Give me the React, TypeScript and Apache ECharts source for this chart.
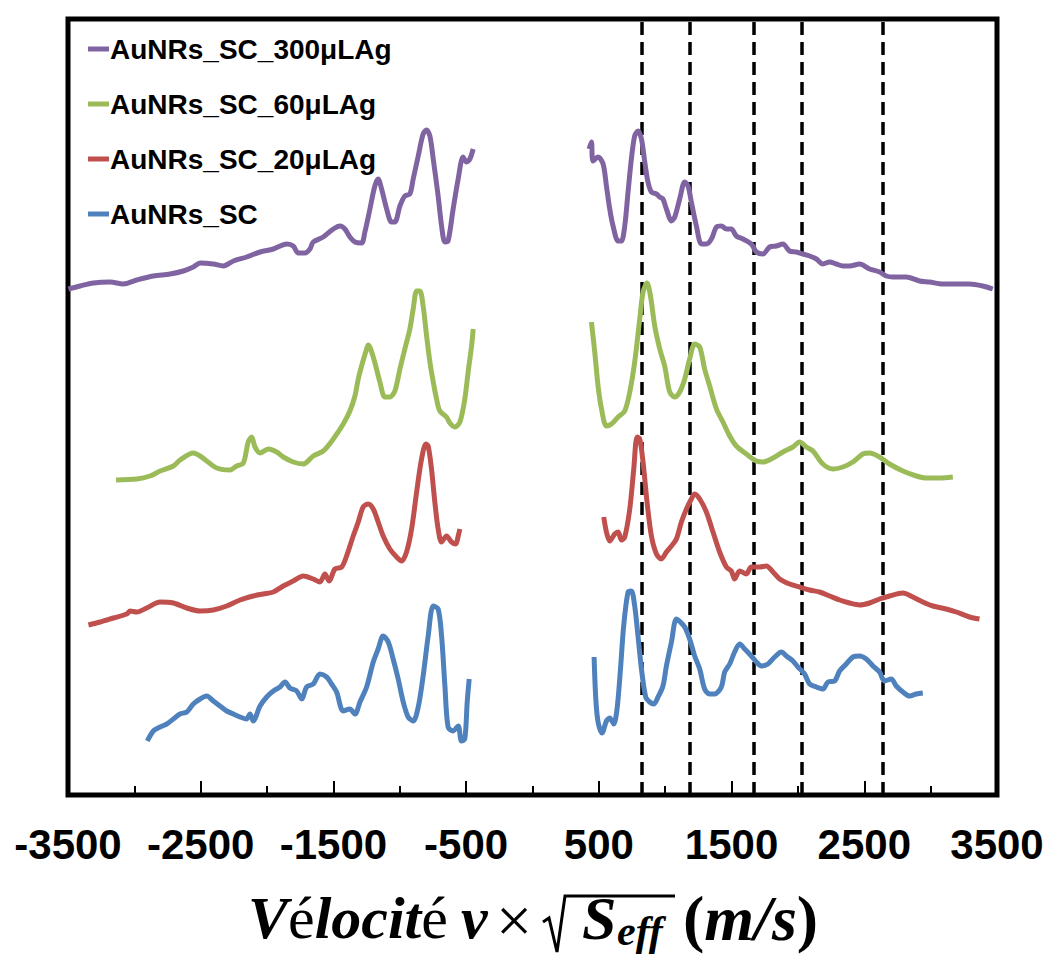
import React, { useEffect, useRef } from "react";
import * as echarts from "echarts";

// Tick values of the x axis (labels every 1000 at odd 500s, ticks every 500)
const X_MIN = -3500;
const X_MAX = 3500;
const X_STEP = 500;
const X_LABEL_STEP = 1000;

// Dashed reference velocities
const DASH_X = [821, 1184, 1669, 2030, 2636];

const NAMES = ["AuNRs_SC_300μLAg", "AuNRs_SC_60μLAg", "AuNRs_SC_20μLAg", "AuNRs_SC"];
const COLORS = ["#8064A2", "#9BBB59", "#C0504D", "#4F81BD"];

// Offset spectra (arbitrary intensity units)
const P300_L = [[-3497,506],[-3409,509],[-3309,512],[-3183,513],[-3083,511],[-2982,515],[-2857,519],[-2731,521],[-2631,524],[-2556,528],[-2505,532],[-2405,531],[-2330,529],[-2254,534],[-2154,538],[-2053,543],[-1953,546],[-1852,551],[-1803,549],[-1765,542],[-1715,542],[-1677,546],[-1652,553],[-1577,558],[-1501,566],[-1451,569],[-1413,566],[-1376,558],[-1338,553],[-1288,552],[-1263,563],[-1225,586],[-1188,609],[-1163,616],[-1137,606],[-1099,586],[-1062,573],[-1037,573],[-999,589],[-962,599],[-924,601],[-899,616],[-861,639],[-824,661],[-798,665],[-773,659],[-748,636],[-711,599],[-685,569],[-660,553],[-636,554],[-598,586],[-560,616],[-523,638],[-497,633],[-472,636],[-447,646]];
const P300_R = [[426,646],[444,653],[456,634],[494,638],[532,631],[557,609],[582,586],[607,569],[645,554],[670,554],[695,569],[720,603],[745,636],[770,659],[795,664],[821,656],[846,633],[870,613],[896,603],[934,601],[959,598],[983,596],[1009,586],[1047,574],[1072,578],[1109,596],[1147,613],[1172,609],[1197,593],[1235,569],[1273,551],[1310,551],[1348,556],[1386,568],[1423,569],[1461,566],[1498,566],[1536,559],[1586,556],[1649,551],[1687,543],[1736,541],[1787,548],[1837,549],[1887,551],[1937,544],[1988,543],[2038,541],[2088,539],[2139,536],[2188,531],[2239,533],[2289,531],[2339,529],[2389,529],[2465,531],[2540,526],[2615,523],[2666,519],[2715,518],[2816,518],[2916,514],[2992,513],[3092,511],[3193,511],[3293,511],[3393,509],[3468,506]];

const G60_L = [[-3138,315],[-2982,316],[-2882,319],[-2806,324],[-2706,329],[-2656,335],[-2556,342],[-2505,339],[-2455,334],[-2379,327],[-2279,325],[-2229,329],[-2179,332],[-2142,353],[-2116,358],[-2091,348],[-2053,342],[-1991,346],[-1928,343],[-1878,338],[-1803,333],[-1727,331],[-1652,339],[-1577,344],[-1501,356],[-1426,371],[-1376,384],[-1338,399],[-1313,416],[-1288,429],[-1250,446],[-1238,450],[-1200,438],[-1150,413],[-1112,398],[-1075,398],[-1037,404],[-999,426],[-962,446],[-924,466],[-899,486],[-873,504],[-849,504],[-824,489],[-798,459],[-773,433],[-748,413],[-723,396],[-698,384],[-648,378],[-623,372],[-585,368],[-547,373],[-510,396],[-485,423],[-459,449],[-447,466]];
const G60_R = [[444,473],[469,443],[494,409],[520,386],[557,369],[595,371],[645,378],[695,384],[733,403],[770,433],[808,476],[833,503],[863,512],[889,499],[921,469],[959,446],[996,429],[1034,403],[1072,398],[1109,403],[1147,416],[1184,436],[1222,451],[1260,448],[1297,426],[1335,409],[1386,386],[1435,373],[1486,359],[1536,349],[1611,341],[1687,334],[1736,333],[1812,337],[1887,343],[1962,348],[2013,353],[2063,348],[2113,344],[2188,331],[2264,326],[2339,328],[2414,333],[2489,341],[2540,342],[2615,338],[2690,331],[2791,324],[2892,319],[2967,317],[3067,317],[3167,318]];

const R20_L = [[-3346,170],[-3258,173],[-3158,177],[-3057,181],[-3032,184],[-2982,183],[-2907,187],[-2806,193],[-2706,192],[-2605,187],[-2505,184],[-2405,185],[-2304,189],[-2204,195],[-2104,199],[-2029,201],[-1953,203],[-1878,209],[-1803,214],[-1727,219],[-1652,216],[-1602,213],[-1564,221],[-1532,214],[-1489,226],[-1438,228],[-1401,239],[-1351,259],[-1313,273],[-1276,288],[-1238,291],[-1200,286],[-1163,273],[-1125,259],[-1075,246],[-1024,238],[-986,234],[-949,243],[-911,266],[-873,303],[-836,336],[-803,351],[-786,349],[-761,326],[-736,293],[-711,266],[-685,253],[-648,259],[-610,253],[-578,251],[-560,259],[-547,266]];
const R20_R = [[537,278],[557,263],[582,254],[620,261],[645,263],[670,255],[695,258],[733,286],[763,326],[788,358],[808,356],[833,333],[863,293],[896,259],[934,241],[971,236],[1009,243],[1047,249],[1084,256],[1122,273],[1160,286],[1197,296],[1222,301],[1260,296],[1310,283],[1360,263],[1410,243],[1461,228],[1498,224],[1523,216],[1561,224],[1611,221],[1649,228],[1712,228],[1762,229],[1812,223],[1862,216],[1937,211],[2013,208],[2088,205],[2163,203],[2239,199],[2314,195],[2389,192],[2465,190],[2540,192],[2615,196],[2690,199],[2791,202],[2866,198],[2941,193],[3017,189],[3117,186],[3193,183],[3293,178],[3368,176]];

const B_L = [[-2902,54],[-2857,64],[-2806,68],[-2756,71],[-2706,76],[-2656,81],[-2605,83],[-2556,91],[-2505,96],[-2455,99],[-2405,94],[-2355,89],[-2304,84],[-2254,81],[-2204,78],[-2154,76],[-2129,81],[-2104,74],[-2053,89],[-2003,98],[-1953,104],[-1903,108],[-1865,113],[-1828,107],[-1777,104],[-1739,96],[-1702,108],[-1652,111],[-1602,121],[-1551,118],[-1514,111],[-1476,103],[-1426,84],[-1376,86],[-1338,81],[-1300,93],[-1250,108],[-1200,133],[-1163,146],[-1125,159],[-1087,153],[-1050,136],[-1012,116],[-974,93],[-937,78],[-899,74],[-861,88],[-824,119],[-786,159],[-748,189],[-711,186],[-685,159],[-660,109],[-636,68],[-598,64],[-560,69],[-535,54],[-510,56],[-492,93],[-477,116]];
const B_R = [[464,138],[477,96],[494,73],[524,62],[557,74],[582,77],[612,71],[637,86],[663,126],[687,169],[720,203],[745,204],[770,189],[795,159],[821,126],[853,98],[883,93],[913,91],[946,98],[983,109],[1009,129],[1047,153],[1084,176],[1114,173],[1147,168],[1184,156],[1222,139],[1260,126],[1297,106],[1335,101],[1373,101],[1423,108],[1448,123],[1486,131],[1523,143],[1561,151],[1599,146],[1649,139],[1687,133],[1724,129],[1774,131],[1825,138],[1875,143],[1913,139],[1962,134],[2000,128],[2050,121],[2088,111],[2139,108],[2188,106],[2226,113],[2276,114],[2314,124],[2364,131],[2414,138],[2465,139],[2515,136],[2565,129],[2615,123],[2653,114],[2703,116],[2741,109],[2791,103],[2841,99],[2892,101],[2941,102]];

const SEGMENTS = [
  [P300_L, P300_R],
  [G60_L, G60_R],
  [R20_L, R20_R],
  [B_L, B_R],
];

const Y_MIN = 0;
const Y_MAX = 776;

export default function App() {
  const ref = useRef<HTMLDivElement>(null);
  useEffect(() => {
    if (!ref.current) return;
    const chart = echarts.init(ref.current, null, { renderer: "svg" });

    const series: any[] = [];
    SEGMENTS.forEach((segs, i) => {
      segs.forEach((data, j) => {
        const s: any = {
          type: "line",
          name: NAMES[i],
          xAxisIndex: 0,
          data,
          showSymbol: false,
          symbol: "none",
          smooth: 0.3,
          color: COLORS[i],
          lineStyle: { color: COLORS[i], width: 5 },
          z: 3,
        };
        if (i === 0 && j === 0) {
          s.markLine = {
            silent: true,
            symbol: ["none", "none"],
            label: { show: false },
            lineStyle: { color: "#000", type: [13, 7], width: 3.5 },
            data: DASH_X.map((x) => ({ xAxis: x })),
            z: 2,
          };
        }
        series.push(s);
      });
    });

    const serif = "'Liberation Serif', 'DejaVu Serif', serif";
    const sans = "'Liberation Sans', Arial, sans-serif";
    const titleY = 918;
    const richStyles = (size: number) => ({
      i: { fontFamily: serif, fontStyle: "italic", fontWeight: "bold", fontSize: size, fill: "#000" },
      u: { fontFamily: serif, fontStyle: "normal", fontWeight: "normal", fontSize: size, fill: "#000" },
      b: { fontFamily: serif, fontStyle: "normal", fontWeight: "bold", fontSize: size, fill: "#000" },
    });

    chart.setOption({
      animation: false,
      grid: {
        left: 68,
        right: 52,
        top: 19,
        bottom: 159,
        show: true,
        borderColor: "#000",
        borderWidth: 5,
        backgroundColor: "transparent",
      },
      legend: {
        orient: "vertical",
        left: 83,
        top: 30,
        itemWidth: 21,
        itemHeight: 5,
        itemGap: 27,
        icon: "rect",
        data: NAMES,
        textStyle: {
          fontFamily: sans,
          fontWeight: "bold",
          fontSize: 28,
          lineHeight: 28,
          color: "#000",
          padding: [0, 0, 0, -4],
        },
      },
      xAxis: [
        {
          type: "value",
          min: X_MIN,
          max: X_MAX,
          interval: X_STEP,
          axisLine: { show: false },
          splitLine: { show: false },
          axisTick: { show: true, inside: true, length: 9, lineStyle: { color: "#000", width: 2 } },
          axisLabel: {
            formatter: (v: number) => (Math.abs(v) % X_LABEL_STEP === X_STEP ? String(v) : ""),
            fontFamily: sans,
            fontWeight: "bold",
            fontSize: 42,
            color: "#000",
            margin: 28,
            showMinLabel: true,
            showMaxLabel: true,
            hideOverlap: false,
          },
        },
        {
          // overlay axis: longer ticks at the labelled positions (-3500, -2500, ... 3500)
          type: "value",
          position: "bottom",
          min: 0,
          max: X_MAX - X_MIN,
          interval: X_LABEL_STEP,
          axisLine: { show: false },
          splitLine: { show: false },
          axisLabel: { show: false },
          axisTick: { show: true, inside: true, length: 14, lineStyle: { color: "#000", width: 2 } },
        },
      ],
      yAxis: { type: "value", min: Y_MIN, max: Y_MAX, show: false },
      series,
      graphic: [
        {
          type: "text",
          x: 248,
          y: titleY,
          style: {
            text: "{i|V}{u|é}{i|locit}{u|é}",
            verticalAlign: "middle",
            rich: richStyles(60),
          },
        },
        {
          type: "text",
          x: 461,
          y: titleY,
          style: { text: "ν", font: `italic bold 60px ${serif}`, fill: "#000", verticalAlign: "middle" },
        },
        {
          type: "text",
          x: 496,
          y: titleY + 2,
          style: { text: "×", font: `normal 64px ${serif}`, fill: "#000", verticalAlign: "middle" },
        },
        {
          type: "polyline",
          shape: { points: [[543, 922], [549, 918], [557, 952], [565, 896], [675, 896]] },
          style: { stroke: "#000", lineWidth: 3, fill: null },
        },
        {
          type: "text",
          x: 582,
          y: titleY,
          style: { text: "S", font: `italic bold 62px ${serif}`, fill: "#000", verticalAlign: "middle" },
        },
        {
          type: "text",
          x: 617,
          y: 931,
          style: { text: "eff", font: `italic bold 42px ${serif}`, fill: "#000", verticalAlign: "middle" },
        },
        {
          type: "text",
          x: 683,
          y: titleY,
          style: {
            text: "{b|(}{i|m}{i|/}{i|s}{b|)}",
            verticalAlign: "middle",
            rich: richStyles(64),
          },
        },
      ],
    });
    return () => chart.dispose();
  }, []);
  return (
    <div
      ref={ref}
      style={{ position: "fixed", left: 0, top: 0, width: 1049, height: 954, background: "#fff" }}
    />
  );
}
